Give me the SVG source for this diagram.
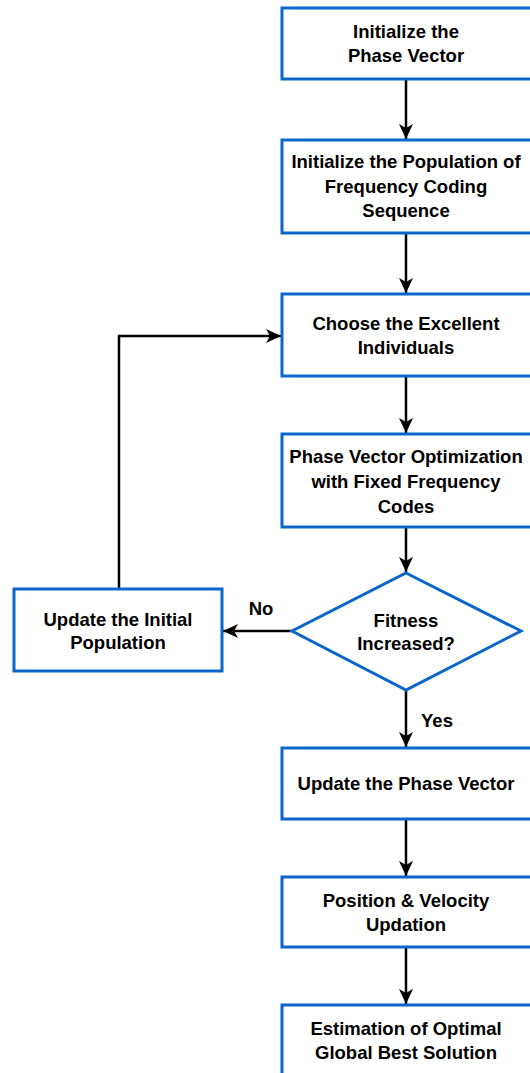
<svg xmlns="http://www.w3.org/2000/svg" width="530" height="1073" viewBox="0 0 530 1073">
<style>
.n{fill:#fff;stroke:#0b66c9;stroke-width:3}
.t{font-family:"Liberation Sans",Arial,sans-serif;font-weight:bold;font-size:18.5px;fill:#000;text-anchor:middle}
.c{fill:none;stroke:#000;stroke-width:2.5}
</style>
<defs>
<marker id="a" markerUnits="userSpaceOnUse" markerWidth="16" markerHeight="16" refX="15" refY="8" orient="auto">
<path d="M0,1 L15,8 L0,15 L4,8 z" fill="#000"/>
</marker>
</defs>
<rect width="530" height="1073" fill="#fff"/>
<g id="connectors">
<line class="c" x1="406" y1="79" x2="406" y2="139" marker-end="url(#a)"/>
<line class="c" x1="406" y1="234" x2="406" y2="293" marker-end="url(#a)"/>
<line class="c" x1="406" y1="376" x2="406" y2="433" marker-end="url(#a)"/>
<line class="c" x1="406" y1="527" x2="406" y2="572" marker-end="url(#a)"/>
<line class="c" x1="292" y1="631" x2="223" y2="631" marker-end="url(#a)"/>
<polyline class="c" points="119,589 119,336 281,336" marker-end="url(#a)"/>
<line class="c" x1="406" y1="690" x2="406" y2="747" marker-end="url(#a)"/>
<line class="c" x1="406" y1="819" x2="406" y2="876" marker-end="url(#a)"/>
<line class="c" x1="406" y1="947" x2="406" y2="1004" marker-end="url(#a)"/>
<text class="t" x="261" y="615">No</text>
<text class="t" x="437" y="727">Yes</text>
</g>
<g id="n1"><rect class="n" x="282" y="8" width="250" height="71"/>
<text class="t" x="406" y="38">Initialize the</text><text class="t" x="406" y="62">Phase Vector</text></g>
<g id="n2"><rect class="n" x="282" y="140" width="250" height="93"/>
<text class="t" x="406" y="168">Initialize the Population of</text><text class="t" x="406" y="193">Frequency Coding</text><text class="t" x="406" y="217">Sequence</text></g>
<g id="n3"><rect class="n" x="282" y="294" width="250" height="82"/>
<text class="t" x="406" y="330">Choose the Excellent</text><text class="t" x="406" y="354">Individuals</text></g>
<g id="n4"><rect class="n" x="282" y="434" width="250" height="93"/>
<text class="t" x="406" y="463">Phase Vector Optimization</text><text class="t" x="406" y="488">with Fixed Frequency</text><text class="t" x="406" y="513">Codes</text></g>
<g id="n5"><polygon class="n" points="406,573 521,631 406,690 292,631"/>
<text class="t" x="406" y="627">Fitness</text><text class="t" x="406" y="650">Increased?</text></g>
<g id="n6"><rect class="n" x="14" y="589" width="208" height="82"/>
<text class="t" x="118" y="626">Update the Initial</text><text class="t" x="118" y="649">Population</text></g>
<g id="n7"><rect class="n" x="282" y="748" width="250" height="71"/>
<text class="t" x="406" y="790">Update the Phase Vector</text></g>
<g id="n8"><rect class="n" x="282" y="877" width="250" height="70"/>
<text class="t" x="406" y="907">Position &amp; Velocity</text><text class="t" x="406" y="931">Updation</text></g>
<g id="n9"><rect class="n" x="282" y="1005" width="250" height="72"/>
<text class="t" x="406" y="1035">Estimation of Optimal</text><text class="t" x="406" y="1059">Global Best Solution</text></g>
</svg>
